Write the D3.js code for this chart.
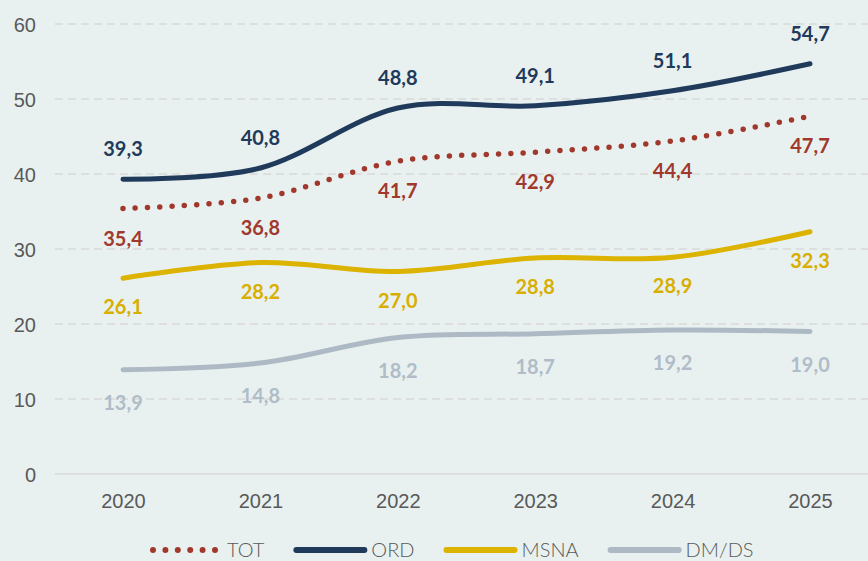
<!DOCTYPE html>
<meta charset="utf-8">
<style>
body { margin: 0; background: #e8f1f0; }
svg { display: block; background: #e8f1f0; font-family: Lato, "Noto Sans", sans-serif; }
.grid line { stroke: #d9d9d9; stroke-width: 1.5px; stroke-dasharray: 8,5; }
.grid line.zero { stroke-dasharray: none; }
.axis text { fill: #595959; font-size: 20px; font-weight: 300; }
.series { fill: none; stroke-width: 5px; stroke-linecap: round; }
.label { font-size: 20px; font-weight: 700; text-anchor: middle; }
.legend text { fill: #595959; font-size: 20px; font-weight: 300; }
</style>
<svg width="868" height="561"></svg>
<script src="https://cdn.jsdelivr.net/npm/d3@7"></script>
<script>

var years = ["2020", "2021", "2022", "2023", "2024", "2025"];
var yTicks = [0, 10, 20, 30, 40, 50, 60];

var tot  = [35.4, 36.8, 41.7, 42.9, 44.4, 47.7];
var ord  = [39.3, 40.8, 48.8, 49.1, 51.1, 54.7];
var msna = [26.1, 28.2, 27.0, 28.8, 28.9, 32.3];
var dmds = [13.9, 14.8, 18.2, 18.7, 19.2, 19.0];

var series = [
  {name: "TOT",   values: tot,  color: "#a0392c", text: "#a0392c", dy: 37,  dotted: true},
  {name: "ORD",   values: ord,  color: "#1f3a5a", text: "#1f3a5a", dy: -23},
  {name: "MSNA",  values: msna, color: "#dbb300", text: "#d8ae00", dy: 36},
  {name: "DM/DS", values: dmds, color: "#adb9c5", text: "#b0bcc8", dy: 40}
];

var svg = d3.select("svg"),
    margin = {top: 24, right: 0, bottom: 87, left: 55},
    width = +svg.attr("width"),
    height = +svg.attr("height");

var x = d3.scalePoint().domain(years).range([123, 810]),
    y = d3.scaleLinear().domain([0, 60]).range([height - margin.bottom, margin.top]);

var fmt = d3.formatLocale({decimal: ",", thousands: ".", grouping: [3], currency: ["", "€"]}).format(".1f");

// gridlines
svg.append("g")
    .attr("class", "grid")
  .selectAll("line")
  .data(yTicks)
  .enter().append("line")
    .attr("class", function(d) { return d === 0 ? "zero" : null; })
    .attr("x1", margin.left)
    .attr("x2", width - margin.right)
    .attr("y1", function(d) { return y(d); })
    .attr("y2", function(d) { return y(d); });

// y axis labels
svg.append("g")
    .attr("class", "axis")
    .attr("transform", "translate(36,0)")
    .call(d3.axisLeft(y).tickValues(yTicks).tickSize(0).tickPadding(0))
    .call(function(g) { g.select(".domain").remove(); })
    .selectAll("text").attr("dy", "0.36em");

// x axis labels
svg.append("g")
    .attr("class", "axis")
    .attr("transform", "translate(0," + (y(0) + 20) + ")")
    .call(d3.axisBottom(x).tickSize(0).tickPadding(0))
    .call(function(g) { g.select(".domain").remove(); })
    .selectAll("text").attr("dy", "0.71em");

var line = d3.line()
    .curve(d3.curveCardinal.tension(0))
    .x(function(d, i) { return x(years[i]); })
    .y(function(d) { return y(d); });

svg.append("g").selectAll("path")
  .data(series)
  .enter().append("path")
    .attr("class", "series")
    .attr("d", function(d) { return line(d.values); })
    .style("stroke", function(d) { return d.color; })
    .style("stroke-width", function(d) { return d.dotted ? 5.5 : 5; })
    .style("stroke-dasharray", function(d) { return d.dotted ? "0 12.3" : null; });

series.forEach(function(s) {
  svg.append("g").selectAll("text")
    .data(s.values)
    .enter().append("text")
      .attr("class", "label")
      .attr("x", function(d, i) { return x(years[i]); })
      .attr("y", function(d) { return y(d) + s.dy; })
      .style("fill", s.text)
      .text(function(d) { return fmt(d); });
});

// legend
var legend = svg.append("g")
    .attr("class", "legend")
    .attr("transform", "translate(150,550)");

var lx = 0;
series.forEach(function(s) {
  var item = legend.append("g").attr("transform", "translate(" + lx + ",0)");
  item.append("line")
      .attr("x1", s.dotted ? 3 : 2)
      .attr("x2", s.dotted ? 65 : 70)
      .attr("class", "series")
      .style("stroke", s.color)
      .style("stroke-width", 6)
      .style("stroke-dasharray", s.dotted ? "0 12.4" : null);
  var t = item.append("text")
      .attr("x", 77)
      .attr("dy", "0.36em")
      .text(s.name);
  lx += 77 + t.node().getComputedTextLength() + 30;
});

</script>
